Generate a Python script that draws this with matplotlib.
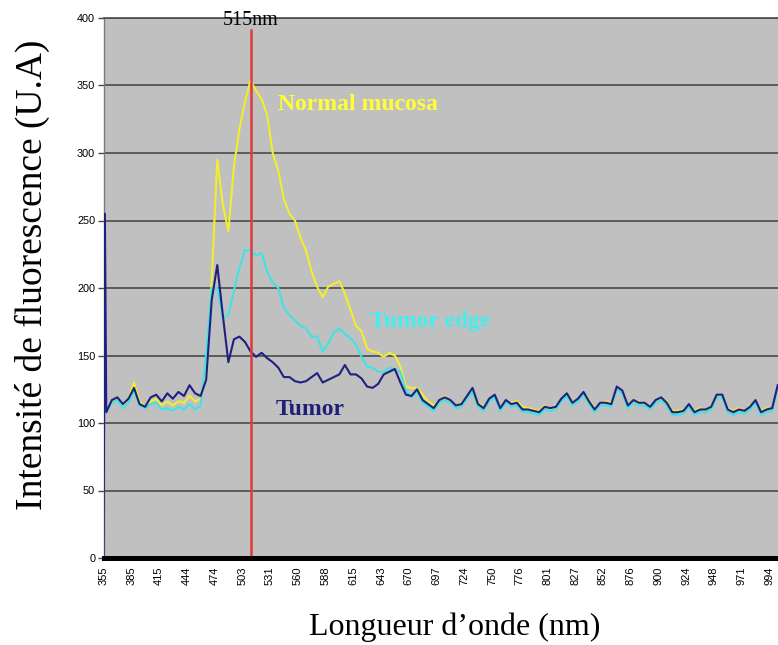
import numpy as np
import matplotlib
matplotlib.use("Agg")
import matplotlib.pyplot as plt

tick_labels = ["355", "385", "415", "444", "474", "503", "531", "560", "588", "615",
               "643", "670", "697", "724", "750", "776", "801", "827", "852", "876",
               "900", "924", "948", "971", "994"]

# sample positions (in tick-interval units along the category axis)
x_samples = np.round(0.1 + 0.2 * np.arange(122), 2)

tumor_start_x = [0.0, 0.05]
tumor_start_y = [0, 255]

tumor = [108, 117, 119, 114, 118, 126, 114, 112, 119, 121,
         116, 122, 118, 123, 120, 128, 122, 120, 132, 191,
         217, 180, 145, 162, 164, 160, 153, 149, 152, 148,
         145, 141, 134, 134, 131, 130, 131, 134, 137, 130,
         132, 134, 136, 143, 136, 136, 133, 127, 126, 129,
         136, 138, 140, 130, 121, 120, 125, 117, 114, 111,
         117, 119, 117, 113, 114, 120, 126, 114, 111, 118,
         121, 111, 117, 114, 115, 110, 110, 109, 108, 112,
         111, 112, 118, 122, 115, 118, 123, 116, 110, 115,
         115, 114, 127, 124, 113, 117, 115, 115, 112, 117,
         119, 115, 108, 108, 109, 114, 108, 110, 110, 112,
         121, 121, 110, 108, 110, 109, 112, 117, 108, 110,
         111, 128]

normal_mucosa = [110, 116, 118, 113, 118, 130, 116, 112, 116, 118,
                 113, 116, 113, 116, 115, 120, 116, 118, 135, 205,
                 295, 262, 242, 290, 318, 338, 354, 346, 340, 328,
                 300, 287, 266, 255, 250, 237, 228, 212, 201, 193,
                 201, 203, 205, 196, 184, 172, 168, 155, 153, 152,
                 149, 152, 150, 142, 127, 126, 126, 121, 116, 113,
                 117, 120, 116, 112, 115, 119, 125, 115, 112, 117,
                 120, 112, 116, 115, 116, 112, 111, 110, 109, 113,
                 110, 113, 117, 121, 116, 117, 122, 117, 111, 114,
                 116, 115, 126, 123, 114, 116, 116, 114, 113, 116,
                 118, 116, 109, 109, 110, 113, 109, 111, 109, 113,
                 120, 120, 111, 109, 111, 108, 113, 116, 109, 111,
                 110, 126]

tumor_edge = [108, 115, 117, 111, 115, 124, 113, 111, 114, 115,
              110, 111, 109, 112, 110, 114, 110, 113, 150, 200,
              200, 178, 180, 198, 215, 228, 228, 224, 226, 212,
              204, 200, 185, 180, 176, 172, 170, 164, 164, 153,
              159, 167, 170, 166, 163, 158, 149, 142, 141, 138,
              138, 141, 139, 138, 124, 119, 123, 115, 112, 109,
              115, 117, 115, 111, 112, 118, 123, 112, 109, 116,
              119, 109, 115, 112, 113, 108, 108, 107, 106, 110,
              109, 110, 116, 120, 113, 116, 121, 114, 108, 113,
              113, 112, 125, 122, 111, 115, 113, 113, 110, 115,
              117, 113, 106, 106, 107, 112, 106, 108, 108, 110,
              119, 119, 108, 106, 108, 107, 110, 115, 106, 108,
              109, 126]

y_ticks = [0, 50, 100, 150, 200, 250, 300, 350, 400]

serif = ["Liberation Serif", "DejaVu Serif"]
sans = ["Liberation Sans", "DejaVu Sans"]

fig = plt.figure(figsize=(7.78, 6.45), dpi=100)
fig.patch.set_facecolor("white")
ax = fig.add_axes([103.5 / 778, 87 / 645, (778 - 103.5) / 778, 540 / 645])
ax.set_facecolor("#c0c0c0")

ax.set_xlim(0, 24.31)
ax.set_ylim(0, 400)

for yv in y_ticks[1:]:
    ax.axhline(yv, color="#4a4a4a", lw=1.2, zorder=1)

c_yellow = "#f2ee2e"
c_cyan = "#3fe3e6"
c_navy = "#1f2080"

ax.plot(x_samples, normal_mucosa, color=c_yellow, lw=1.5, zorder=3)
ax.plot(x_samples, tumor_edge, color=c_cyan, lw=1.5, zorder=4)
ax.plot(np.concatenate([tumor_start_x, x_samples]),
        np.concatenate([tumor_start_y, tumor]), color=c_navy, lw=1.5, zorder=5)

xpk = x_samples[int(np.argmax(normal_mucosa))]
ax.axvline(xpk, ymin=0, ymax=0.978, color="#e03a3a", lw=1.8, zorder=6)
ax.text(xpk, 398, "515nm", ha="center", va="center", fontsize=14.5,
        family=serif, color="black", zorder=7)

ax.text(6.29, 336, "Normal mucosa", ha="left", va="center", fontsize=17,
        fontweight="bold", family=serif, color="#ffff33", zorder=7)
ax.text(9.6, 175, "Tumor edge", ha="left", va="center", fontsize=17,
        fontweight="bold", family=serif, color="#44eeee", zorder=7)
ax.text(6.22, 110, "Tumor", ha="left", va="center", fontsize=17,
        fontweight="bold", family=serif, color="#1f1f7a", zorder=7)

ax.set_yticks(y_ticks)
ax.set_yticklabels([str(v) for v in y_ticks], family=sans, fontsize=7.8)
ax.set_xticks(np.arange(len(tick_labels)))
ax.set_xticklabels(tick_labels, rotation=90, family=sans, fontsize=8)
ax.tick_params(axis="y", length=4, width=1, color="#444444", pad=2)
ax.tick_params(axis="x", length=0, pad=6)

ax.spines["right"].set_visible(False)
ax.spines["top"].set_color("#4a4a4a")
ax.spines["top"].set_linewidth(1.2)
ax.spines["left"].set_color("#7a7a7a")
ax.spines["left"].set_linewidth(1.0)
ax.spines["bottom"].set_color("black")
ax.spines["bottom"].set_linewidth(3.6)
ax.spines["bottom"].set_zorder(8)

fig.text(32 / 778, 1 - 275 / 645, "Intensité de fluorescence (U.A)", rotation=90,
         ha="center", va="center", fontsize=27, family=serif)
fig.text(455 / 778, 1 - 627 / 645, "Longueur d\u2019onde (nm)", ha="center",
         va="center", fontsize=23, family=serif)

fig.savefig("out.png", dpi=100)
